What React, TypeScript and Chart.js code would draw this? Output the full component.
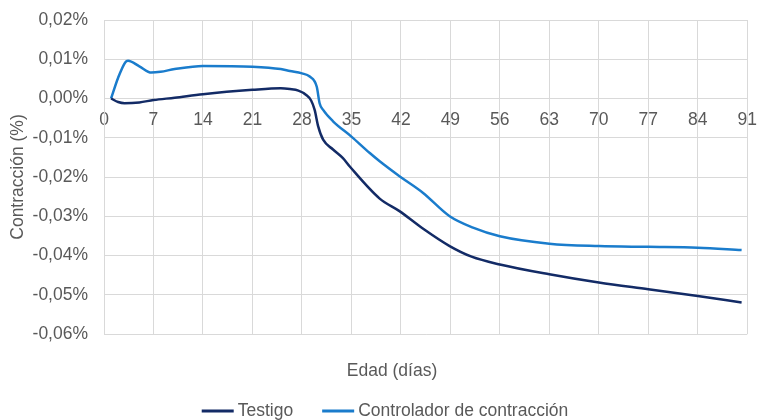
import React, { useEffect, useRef } from "react";
import { Chart, registerables } from "chart.js";

Chart.register(...registerables);

// Edad (días) and contracción (%)
const testigoDias = [1, 2, 2.9, 5, 7, 10, 14, 21, 25, 26.3, 27.5, 28.6, 29.3, 29.8, 30.3, 31, 32.4, 33.8, 34.8, 39, 41.8, 45, 48.9, 52, 56, 63, 70, 77, 84, 90.2];
const testigoValores = [0, -0.0009, -0.0012, -0.0010, -0.0004, 0.0002, 0.0011, 0.0022, 0.0026, 0.0024, 0.0020, 0.0009, -0.0005, -0.0029, -0.0071, -0.0105, -0.0130, -0.0152, -0.0174, -0.0255, -0.0287, -0.0330, -0.0376, -0.0403, -0.0423, -0.0448, -0.0469, -0.0486, -0.0503, -0.0520];

const controladorDias = [1, 2, 3, 3.4, 5, 6.7, 8, 10, 14, 21, 25, 26.3, 28, 29.1, 30.1, 30.5, 31, 32.4, 35, 37.6, 39, 41.8, 45.1, 48.9, 52.2, 56, 63, 70, 77, 84, 90.2];
const controladorValores = [0, 0.0053, 0.0092, 0.0096, 0.0082, 0.0066, 0.0068, 0.0075, 0.0083, 0.0081, 0.0075, 0.0070, 0.0064, 0.0056, 0.0030, -0.0012, -0.0029, -0.0058, -0.0097, -0.0139, -0.0160, -0.0198, -0.0240, -0.0300, -0.0329, -0.0351, -0.0370, -0.0376, -0.0378, -0.0380, -0.0386];

const serieNombres = ["Testigo", "Controlador de contracción"];
const serieColores = ["#132b66", "#1a7ccc"];
const ejeXTitulo = "Edad (días)";
const ejeYTitulo = "Contracción (%)";
const ejeXMin = 0;
const ejeXMax = 91;
const ejeXPaso = 7;
const ejeYMin = -0.06;
const ejeYMax = 0.02;
const ejeYPaso = 0.01;

const FONT = "'Liberation Sans', Arial, sans-serif";
const FS = 17.5;
const TEXT = "#595959";
const GRID = "#d9d9d9";

const fmtPct = (v: number) => {
  const n = Math.abs(v) < 1e-9 ? 0 : v;
  return n.toFixed(2).replace(".", ",") + "%";
};

const bottomPlugin = {
  id: "bottomTexts",
  afterDraw(chart: any) {
    const ctx = chart.ctx;
    ctx.save();
    ctx.font = `${FS}px ${FONT}`;
    ctx.fillStyle = TEXT;
    ctx.textBaseline = "middle";
    ctx.textAlign = "center";
    ctx.fillText(ejeXTitulo, 392, 371);
    // legend
    const lineW = 32;
    const gapText = 4;
    const gapItems = 29;
    const items = chart.data.datasets.map((d: any) => ({
      label: d.label,
      color: d.borderColor,
      w: ctx.measureText(d.label).width,
    }));
    const total = items.reduce((s: number, it: any) => s + lineW + gapText + it.w, 0) + gapItems * (items.length - 1);
    let x = 385 - total / 2;
    const y = 411;
    ctx.textAlign = "left";
    items.forEach((it: any) => {
      ctx.strokeStyle = it.color;
      ctx.lineWidth = 3;
      ctx.beginPath();
      ctx.moveTo(x, y);
      ctx.lineTo(x + lineW, y);
      ctx.stroke();
      ctx.fillStyle = TEXT;
      ctx.fillText(it.label, x + lineW + gapText, y);
      x += lineW + gapText + it.w + gapItems;
    });
    ctx.restore();
  },
};

export default function App() {
  const ref = useRef<HTMLCanvasElement | null>(null);
  useEffect(() => {
    if (!ref.current) return;
    const mk = (dias: number[], vals: number[]) => dias.map((d, i) => ({ x: d, y: vals[i] }));
    const chart = new Chart(ref.current, {
      type: "line",
      data: {
        datasets: [
          {
            label: serieNombres[0],
            data: mk(testigoDias, testigoValores),
            borderColor: serieColores[0],
            backgroundColor: serieColores[0],
            borderWidth: 2.5,
            pointRadius: 0,
            cubicInterpolationMode: "monotone",
          },
          {
            label: serieNombres[1],
            data: mk(controladorDias, controladorValores),
            borderColor: serieColores[1],
            backgroundColor: serieColores[1],
            borderWidth: 2.5,
            pointRadius: 0,
            cubicInterpolationMode: "monotone",
          },
        ],
      },
      options: {
        animation: false,
        responsive: true,
        maintainAspectRatio: false,
        layout: { padding: { left: 0, right: 0, top: 20, bottom: 86 } },
        plugins: {
          legend: { display: false },
          tooltip: { enabled: false },
        },
        scales: {
          x: {
            type: "linear",
            position: { y: 0 } as any,
            min: ejeXMin,
            max: ejeXMax,
            ticks: {
              stepSize: ejeXPaso,
              color: TEXT,
              font: { family: FONT, size: FS },
              padding: 0,
              maxRotation: 0,
              autoSkip: false,
            },
            grid: { color: GRID, lineWidth: 1, drawTicks: true, tickLength: 11, tickColor: "rgba(0,0,0,0)" },
            border: { color: GRID, width: 1 },
          },
          y: {
            type: "linear",
            min: ejeYMin,
            max: ejeYMax,
            ticks: {
              stepSize: ejeYPaso,
              color: TEXT,
              font: { family: FONT, size: FS },
              padding: 0,
              callback: (v: any) => fmtPct(Number(v)),
            },
            grid: { color: GRID, lineWidth: 1, drawTicks: true, tickLength: 16, tickColor: "rgba(0,0,0,0)" },
            border: { color: GRID, width: 1 },
            title: {
              display: true,
              text: ejeYTitulo,
              color: TEXT,
              font: { family: FONT, size: FS, lineHeight: 1.2 },
              padding: { top: 8, bottom: 0 },
            },
            afterFit: (s: any) => {
              s.width = 104;
            },
          },
        },
      },
      plugins: [bottomPlugin],
    });
    return () => chart.destroy();
  }, []);
  return (
    <div style={{ position: "fixed", left: 0, top: 0, width: 757, height: 420, background: "#fff" }}>
      <canvas ref={ref} />
    </div>
  );
}
